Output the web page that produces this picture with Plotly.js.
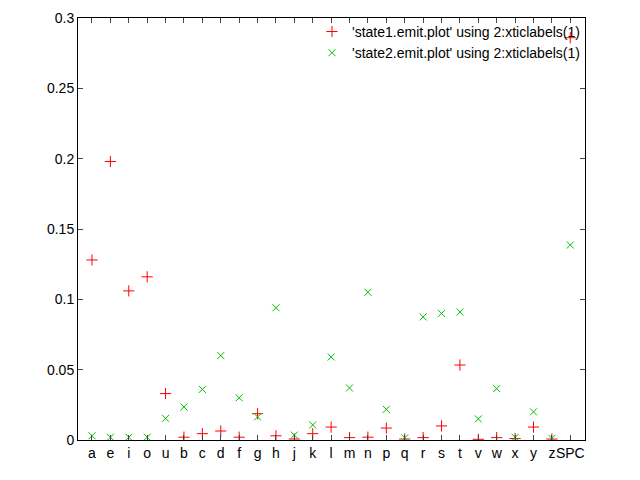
<!DOCTYPE html>
<html><head><script src="https://cdn.plot.ly/plotly-3.0.0.min.js"></script>
<style>body{margin:0}</style></head><body><div id="c" style="width:640px;height:480px"></div>
<script>
const labels=["a","e","i","o","u","b","c","d","f","g","h","j","k","l","m","n","p","q","r","s","t","v","w","x","y","z","SPC"];
const state1=[0.128,0.198,0.106,0.116,0.033,0.002,0.0045,0.0064,0.002,0.0187,0.003,0.0007,0.0045,0.0092,0.0017,0.002,0.0085,0.0007,0.0017,0.010,0.0533,0.0005,0.0017,0.001,0.0092,0.0007,0.286];
const state2=[0.003,0.002,0.002,0.002,0.0154,0.0235,0.036,0.060,0.030,0.0164,0.094,0.0035,0.0107,0.059,0.037,0.105,0.0218,0.0015,0.0875,0.090,0.091,0.015,0.0365,0.0019,0.020,0.0012,0.1386];
const idx=labels.map((_,i)=>i);
const f={family:"Liberation Sans, Arial, sans-serif",size:14,color:"#000"};
Plotly.newPlot("c",[
{x:idx,y:state1,mode:"markers",type:"scatter",name:"'state1.emit.plot' using 2:xticlabels(1)",marker:{symbol:"cross-thin-open",size:8,color:"#ff0000",line:{color:"#ff0000",width:1}}},
{x:idx,y:state2,mode:"markers",type:"scatter",name:"'state2.emit.plot' using 2:xticlabels(1)",marker:{symbol:"x-thin-open",size:7,color:"#00c000",line:{color:"#00c000",width:1}}}
],{width:640,height:480,margin:{l:78,r:55,t:18,b:40},paper_bgcolor:"#fff",plot_bgcolor:"#fff",font:f,showlegend:true,
legend:{x:1,y:1.005,xanchor:"right",yanchor:"top",bgcolor:"rgba(0,0,0,0)",font:f,tracegroupgap:0},
xaxis:{range:[-0.76,26.8],tickvals:idx,ticktext:labels,tickangle:0,ticks:"inside",ticklen:5,showgrid:false,zeroline:false,showline:true,mirror:"ticks",linecolor:"#000",linewidth:1,tickfont:f},
yaxis:{range:[0,0.3],dtick:0.05,tickformat:"~g",ticks:"inside",ticklen:5,showgrid:false,zeroline:false,showline:true,mirror:"ticks",linecolor:"#000",linewidth:1,tickfont:f}
},{displayModeBar:false});
</script></body></html>
